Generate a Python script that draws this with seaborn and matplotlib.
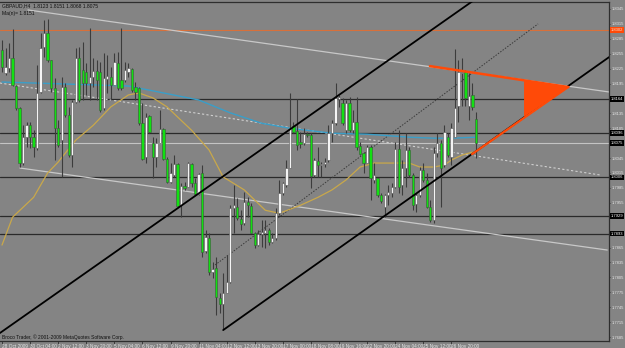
import numpy as np
import pandas as pd
import matplotlib
matplotlib.use("Agg")
import matplotlib.pyplot as plt
import matplotlib.transforms as mtrans
import seaborn as sns

# ---------------- data (GBPAUD H4 candles) ----------------
high = [1.8282, 1.8266, 1.8276, 1.8305, 1.8192, 1.8148, 1.8111, 1.8117, 1.8117, 1.8101,
        1.8232, 1.8297, 1.8323, 1.8325, 1.8242, 1.8206, 1.8121, 1.8208, 1.8196, 1.8148,
        1.8162, 1.8266, 1.8268, 1.8278, 1.8236, 1.8307, 1.8246, 1.8242, 1.8238, 1.8256,
        1.8252, 1.8228, 1.8256, 1.8258, 1.8307, 1.8238, 1.8236, 1.8226, 1.8198, 1.8188,
        1.8156, 1.8136, 1.8132, 1.8087, 1.8085, 1.8142, 1.8105, 1.8047, 1.8035, 1.8051,
        1.8035, 1.7995, 1.7997, 1.8037, 1.8035, 1.8005, 1.8015, 1.8031, 1.7900, 1.7894,
        1.7836, 1.7846, 1.7773, 1.7813, 1.7850, 1.7950, 1.7991, 1.7964, 1.7940, 1.7976,
        1.7966, 1.7954, 1.7896, 1.7900, 1.7920, 1.7920, 1.7904, 1.7894, 1.7944, 1.8001,
        1.7997, 1.8041, 1.8176, 1.8117, 1.8164, 1.8097, 1.8105, 1.8097, 1.8095, 1.8045,
        1.8067, 1.8037, 1.8045, 1.8111, 1.8121, 1.8196, 1.8172, 1.8166, 1.8162, 1.8168,
        1.8142, 1.8168, 1.8077, 1.8057, 1.8071, 1.8071, 1.8035, 1.8005, 1.7974, 1.7972,
        1.7991, 1.7995, 1.8077, 1.8101, 1.8041, 1.8095, 1.8067, 1.8015, 1.7974, 1.8027,
        1.8035, 1.8015, 1.7960, 1.8067, 1.8095, 1.8081, 1.8111, 1.8095, 1.8115, 1.8264,
        1.8242, 1.8246, 1.8222, 1.8216, 1.8196, 1.8137]
open_ = [1.8262, 1.8216, 1.8226, 1.8246, 1.8190, 1.8146, 1.8035, 1.8087, 1.8111, 1.8087,
         1.8065, 1.8178, 1.8268, 1.8297, 1.8242, 1.8186, 1.8105, 1.8081, 1.8188, 1.8132,
         1.8051, 1.8158, 1.8246, 1.8222, 1.8218, 1.8196, 1.8208, 1.8220, 1.8218, 1.8146,
         1.8204, 1.8208, 1.8192, 1.8236, 1.8202, 1.8202, 1.8218, 1.8224, 1.8188, 1.8186,
         1.8115, 1.8047, 1.8130, 1.8075, 1.8047, 1.8075, 1.8103, 1.8043, 1.7997, 1.8011,
         1.8033, 1.7950, 1.7989, 1.7987, 1.8033, 1.7995, 1.7972, 1.8015, 1.7858, 1.7884,
         1.7815, 1.7824, 1.7763, 1.7751, 1.7773, 1.7795, 1.7944, 1.7946, 1.7922, 1.7914,
         1.7956, 1.7948, 1.7894, 1.7870, 1.7892, 1.7894, 1.7900, 1.7876, 1.7884, 1.7934,
         1.7974, 1.7991, 1.8025, 1.8109, 1.8099, 1.8077, 1.8075, 1.8093, 1.8091, 1.8011,
         1.8039, 1.8031, 1.8033, 1.8041, 1.8095, 1.8115, 1.8164, 1.8156, 1.8101, 1.8156,
         1.8101, 1.8117, 1.8069, 1.8055, 1.8035, 1.8067, 1.8001, 1.8005, 1.7970, 1.7946,
         1.7970, 1.7974, 1.7987, 1.8063, 1.7991, 1.8025, 1.8061, 1.8011, 1.7952, 1.7970,
         1.8021, 1.8001, 1.7946, 1.7920, 1.8055, 1.8075, 1.8031, 1.8087, 1.8047, 1.8087,
         1.8150, 1.8216, 1.8218, 1.8150, 1.8172, 1.8123]
close = [1.8228, 1.8228, 1.8246, 1.8192, 1.8146, 1.8035, 1.8087, 1.8111, 1.8087, 1.8067,
         1.8176, 1.8266, 1.8297, 1.8242, 1.8186, 1.8105, 1.8071, 1.8188, 1.8132, 1.8051,
         1.8158, 1.8246, 1.8162, 1.8196, 1.8196, 1.8208, 1.8220, 1.8202, 1.8142, 1.8206,
         1.8210, 1.8192, 1.8238, 1.8186, 1.8186, 1.8222, 1.8226, 1.8182, 1.8178, 1.8115,
         1.8043, 1.8127, 1.8097, 1.8047, 1.8075, 1.8103, 1.8043, 1.7997, 1.8015, 1.8033,
         1.7948, 1.7989, 1.7985, 1.8035, 1.7995, 1.7972, 1.8013, 1.7856, 1.7886, 1.7815,
         1.7822, 1.7765, 1.7751, 1.7773, 1.7795, 1.7944, 1.7950, 1.7924, 1.7912, 1.7956,
         1.7950, 1.7894, 1.7870, 1.7892, 1.7896, 1.7900, 1.7876, 1.7884, 1.7934, 1.7974,
         1.7995, 1.8025, 1.8105, 1.8097, 1.8071, 1.8073, 1.8093, 1.8091, 1.8009, 1.8041,
         1.8031, 1.8033, 1.8037, 1.8095, 1.8115, 1.8166, 1.8168, 1.8115, 1.8156, 1.8101,
         1.8117, 1.8067, 1.8053, 1.8035, 1.8067, 1.8005, 1.8011, 1.7970, 1.7958, 1.7970,
         1.7976, 1.7987, 1.8063, 1.7987, 1.8025, 1.8061, 1.8011, 1.7950, 1.7970, 1.8021,
         1.8001, 1.7946, 1.7920, 1.8055, 1.8075, 1.8025, 1.8097, 1.8051, 1.8105, 1.8146,
         1.8218, 1.8218, 1.8166, 1.8170, 1.8148, 1.8075]
low = [1.8218, 1.8212, 1.8218, 1.8190, 1.8142, 1.8027, 1.8031, 1.8067, 1.8065, 1.8047,
       1.8061, 1.8176, 1.8248, 1.8238, 1.8178, 1.8041, 1.8067, 1.8007, 1.8127, 1.8047,
       1.8027, 1.8156, 1.8158, 1.8162, 1.8172, 1.8162, 1.8188, 1.8162, 1.8138, 1.8142,
       1.8176, 1.8162, 1.8192, 1.8182, 1.8182, 1.8198, 1.8208, 1.8178, 1.8162, 1.8111,
       1.8041, 1.8035, 1.8095, 1.8005, 1.8027, 1.8075, 1.8041, 1.7995, 1.7995, 1.8007,
       1.7946, 1.7926, 1.7981, 1.7987, 1.7987, 1.7970, 1.7970, 1.7846, 1.7854, 1.7809,
       1.7803, 1.7729, 1.7733, 1.7699, 1.7773, 1.7793, 1.7894, 1.7920, 1.7900, 1.7910,
       1.7926, 1.7894, 1.7864, 1.7868, 1.7866, 1.7864, 1.7870, 1.7874, 1.7880, 1.7930,
       1.7970, 1.7987, 1.8025, 1.8095, 1.8061, 1.8065, 1.8071, 1.8087, 1.7985, 1.8007,
       1.8007, 1.8007, 1.8027, 1.8037, 1.8077, 1.8111, 1.8148, 1.8111, 1.8095, 1.8097,
       1.8095, 1.8061, 1.8051, 1.8015, 1.8035, 1.7960, 1.7995, 1.7966, 1.7954, 1.7926,
       1.7950, 1.7966, 1.7985, 1.7974, 1.7970, 1.7987, 1.8007, 1.7940, 1.7936, 1.7966,
       1.7997, 1.7944, 1.7916, 1.7914, 1.8047, 1.7946, 1.8027, 1.8047, 1.8031, 1.8087,
       1.8117, 1.8150, 1.8150, 1.8121, 1.8142, 1.8045]

# moving averages (bar index, price)
blue_bars = [0, 36, 56, 65, 74, 82, 94, 104, 116, 123, 128, 135]
blue_vals = [1.8198, 1.8190, 1.8162, 1.8136, 1.8115, 1.8105, 1.8095, 1.8093, 1.8087, 1.8085, 1.8085, 1.8087]
yel_bars = [0, 3, 9, 13, 16, 21, 26, 31, 36, 39, 43, 47, 51, 54, 59, 63, 69, 75, 79, 85, 90,
            94, 98, 102, 106, 110, 116, 119, 123, 126, 128, 131, 134]
yel_vals = [1.7870, 1.7926, 1.7966, 1.8015, 1.8037, 1.8081, 1.8111, 1.8148, 1.8172, 1.8176,
            1.8166, 1.8148, 1.8121, 1.8101, 1.8061, 1.8007, 1.7981, 1.7940, 1.7934, 1.7950,
            1.7966, 1.7981, 1.8001, 1.8027, 1.8035, 1.8035, 1.8035, 1.8027, 1.8027, 1.8031,
            1.8041, 1.8051, 1.8057]

# trend lines: (bar0, price0, bar1, price1)
gray_top = (7.4, 1.8343, 172.9, 1.8178)
gray_low = (5.1, 1.8025, 172.4, 1.7860)
dot_light = (-0.6, 1.8196, 170.4, 1.8011)
chan_up = (-0.6, 1.7693, 134.5, 1.8363)
chan_low = (63.0, 1.7699, 172.9, 1.8248)
dot_mid = (60.7, 1.7830, 152.7, 1.8315)
orange_up = (121.9, 1.8230, 161.3, 1.8188)
orange_low = (133.9, 1.8053, 161.3, 1.8188)
tri_bars = [148.7, 161.3, 148.7]
tri_vals = [1.8200, 1.8188, 1.8128]

hlines_black = [1.8164, 1.8096, 1.8006, 1.7929, 1.7893]
bid_line = 1.8075
orange_level = 1.8302

ytick_vals = [round(1.7685 + 0.003 * k, 4) for k in range(23)]
date_bars = list(range(0, 129, 8))
date_labels = ["28 Oct 2009", "30 Oct 04:00", "2 Nov 12:00", "3 Nov 20:00", "5 Nov 04:00",
               "6 Nov 12:00", "9 Nov 20:00", "11 Nov 04:00", "12 Nov 12:00", "13 Nov 20:00",
               "17 Nov 00:00", "18 Nov 08:00", "19 Nov 16:00", "22 Nov 20:00", "24 Nov 04:00",
               "25 Nov 12:00", "26 Nov 20:00"]

# ---------------- drawing ----------------
BG = "#848484"
sns.set_theme(style="white", rc={"axes.facecolor": BG, "figure.facecolor": BG})
FONT = ["Liberation Sans Narrow", "Liberation Sans", "DejaVu Sans"]
plt.rcParams["font.family"] = FONT

fig = plt.figure(figsize=(6.25, 3.48), dpi=100)
ax = fig.add_axes([0.0, 7 / 348, 609 / 625, 1 - 8.5 / 348])
ax.set_xlim(-0.57, 172.9)
ax.set_ylim(1.7677, 1.8360)

df = pd.DataFrame({"o": open_, "h": high, "l": low, "c": close})
df["bar"] = np.arange(len(df))
up = df["c"] >= df["o"]

# horizontal levels
for v in hlines_black:
    ax.axhline(v, color="#2a2a2a", lw=0.9, zorder=1)
ax.axhline(bid_line, color="#c4c4c4", lw=0.8, zorder=1)
ax.axhline(orange_level, color="#d8703a", lw=0.8, zorder=1)

def seg(t, **kw):
    ax.plot([t[0], t[2]], [t[1], t[3]], **kw)

seg(gray_top, color="#c8c8c8", lw=0.9, zorder=2)
seg(gray_low, color="#c8c8c8", lw=0.9, zorder=2)
seg(dot_light, color="#d0d0d0", lw=0.8, ls=(0, (2, 2)), zorder=2)
seg(dot_mid, color="#3a3a3a", lw=0.7, ls=(0, (1.5, 1.5)), zorder=2)

sns.lineplot(x=blue_bars, y=blue_vals, ax=ax, color="#3a9ec8", lw=1.0, estimator=None, sort=False, zorder=3)
sns.lineplot(x=yel_bars, y=yel_vals, ax=ax, color="#c9a84a", lw=0.9, estimator=None, sort=False, zorder=3)

# candles
ax.vlines(df["bar"], df["l"], df["h"], color="#3c3c3c", lw=0.8, zorder=4)
body_lo = np.minimum(df["o"], df["c"])
body_h = np.maximum(np.abs(df["c"] - df["o"]), 0.00018)
ax.bar(df["bar"][up], body_h[up], bottom=body_lo[up], width=0.66, color="#f4f4f4",
       edgecolor="#5a5a5a", linewidth=0.4, zorder=5)
ax.bar(df["bar"][~up], body_h[~up], bottom=body_lo[~up], width=0.66, color="#12e012",
       edgecolor="#3a5a3a", linewidth=0.4, zorder=5)

# channel lines
seg(chan_up, color="black", lw=1.3, zorder=6)
seg(chan_low, color="black", lw=1.3, zorder=6)

# orange pattern
seg(orange_up, color="#ff4a08", lw=1.8, zorder=7)
seg(orange_low, color="#ff4a08", lw=1.6, zorder=7)
ax.fill(tri_bars, tri_vals, color="#ff4a08", lw=0, zorder=7)

# axes styling
ax.spines["left"].set_visible(False)
for s in ["top", "right", "bottom"]:
    ax.spines[s].set_color("#2e2e2e")
    ax.spines[s].set_linewidth(0.9)

ax.yaxis.tick_right()
marked = hlines_black + [bid_line, orange_level]
shown = [v for v in ytick_vals if min(abs(v - m) for m in marked) > 0.0005]
ax.set_yticks(shown)
ax.set_yticklabels([f"{v:.4f}" for v in shown])
ax.tick_params(axis="y", which="both", right=True, length=1.0, width=0.6, color="#303030",
               labelsize=3.0, labelcolor="#e6e6e6", pad=0.6)
ax.set_xticks(date_bars)
ax.set_xticklabels(date_labels, ha="left")
ax.tick_params(axis="x", which="both", bottom=True, length=2.0, width=0.6, color="#303030",
               labelsize=3.4, labelcolor="#e6e6e6", pad=0.3)
ax.set_xlabel("")
ax.set_ylabel("")

trans = mtrans.blended_transform_factory(ax.transAxes, ax.transData)
for v in hlines_black + [bid_line]:
    ax.text(1.0025, v, f"{v:.4f}", transform=trans, fontsize=3.0, color="white", va="center",
            ha="left", clip_on=False,
            bbox=dict(boxstyle="square,pad=0.2", fc="black", ec="none"))
ax.text(1.0025, orange_level, f"{orange_level:.4f}", transform=trans, fontsize=3.0, color="#ffe0d0",
        va="center", ha="left", clip_on=False,
        bbox=dict(boxstyle="square,pad=0.2", fc="#ff4a08", ec="none"))

ax.text(0.004, 0.994, "GBPAUD,H4  1.8123 1.8151 1.8068 1.8075", transform=ax.transAxes,
        fontsize=3.6, color="#111111", va="top", ha="left", zorder=10)
ax.text(0.004, 0.972, "Ma(n)= 1.8151", transform=ax.transAxes,
        fontsize=3.6, color="#111111", va="top", ha="left", zorder=10)
ax.text(0.004, 0.012, "Broco Trader, \u00a9 2001-2009 MetaQuotes Software Corp.", transform=ax.transAxes,
        fontsize=3.5, color="#111111", va="center", ha="left", zorder=10)

fig.savefig("out.png", dpi=100, facecolor=BG)
